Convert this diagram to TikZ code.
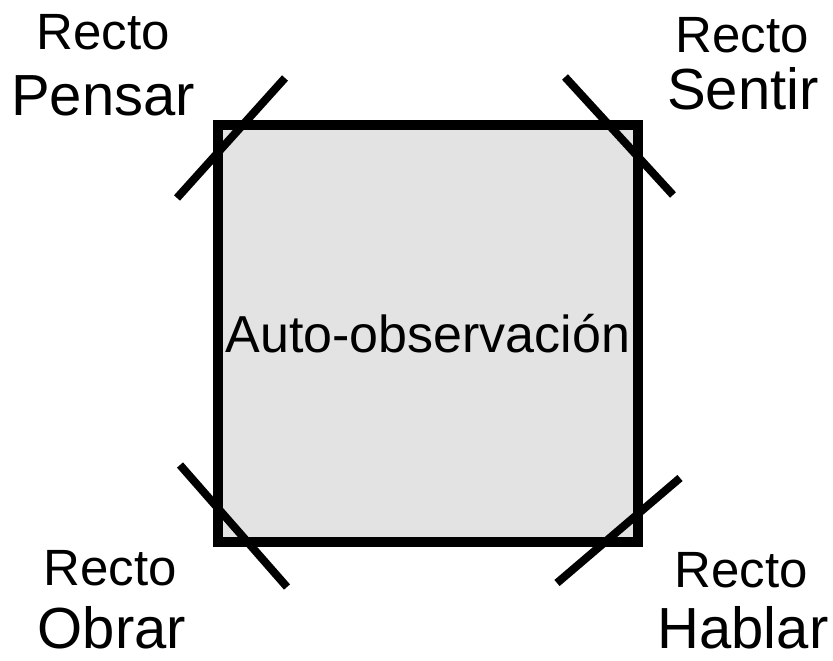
\documentclass[tikz,border=0pt]{standalone}
\usepackage{fontspec}
\setmainfont{Liberation Sans}
\usetikzlibrary{positioning}

\begin{document}
\begin{tikzpicture}[x=1pt, y=-1pt,
   square/.style = {draw, line width=9.5pt, fill=black!11,
                    minimum width=420pt, minimum height=417pt,
                    inner sep=0pt, font=\fontsize{52}{56}\selectfont},
   slash/.style  = {line width=8pt},
   small/.style  = {anchor=base, inner sep=0pt,
                    font=\fontsize{51}{54}\selectfont},
   big/.style    = {anchor=base, inner sep=0pt,
                    font=\fontsize{58}{60}\selectfont}
                    ]
\useasboundingbox (0,0) rectangle (833,661);
% the central square
\node (obs) [square] at (428,333.5) {Auto-observación};
% corner labels
\node (rtl) [small] at (103,50)  {Recto};
\node (ptl) [big]   at (103,115) {Pensar};
\node (rtr) [small] at (742,53)  {Recto};
\node (str) [big]   at (743,110) {Sentir};
\node (rbl) [small] at (110,585) {Recto};
\node (obl) [big]   at (112,648) {Obrar};
\node (rbr) [small] at (741,587) {Recto};
\node (hbr) [big]   at (743,648) {Hablar};
% crossing strokes at the corners
\draw [slash] (177,198) -- (285,78);
\draw [slash] (565,77)  -- (673,195);
\draw [slash] (180,465) -- (287,587);
\draw [slash] (557,583) -- (680,478);
\end{tikzpicture}
\end{document}
